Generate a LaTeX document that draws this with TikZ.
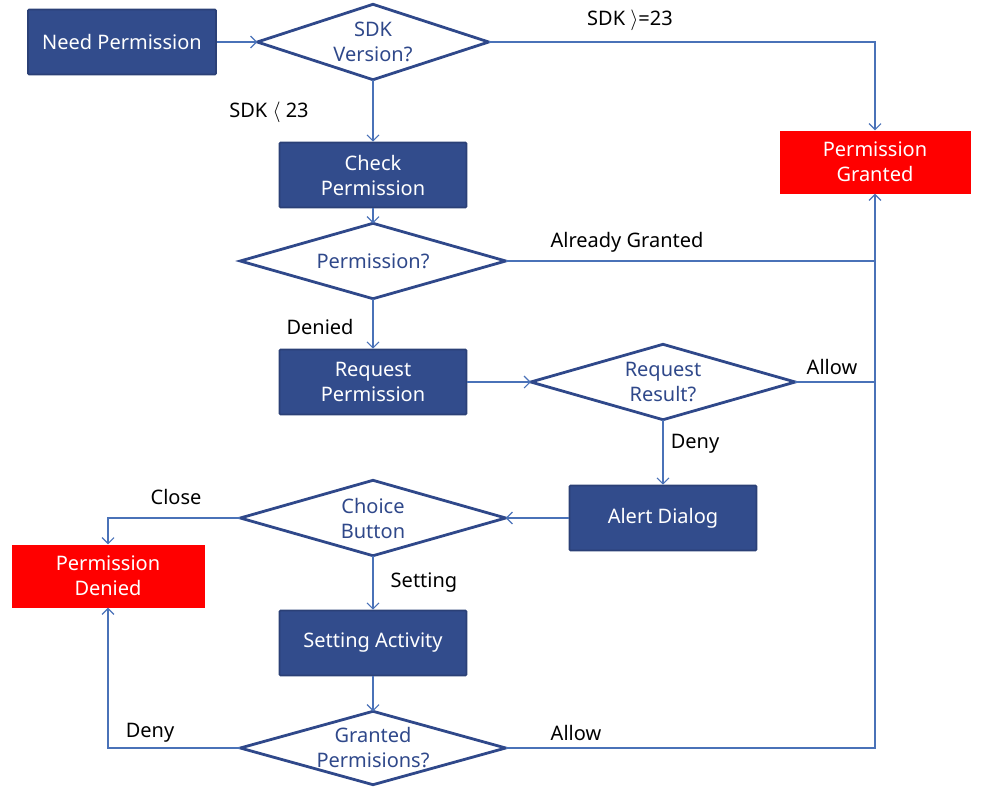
\documentclass[tikz,border=0pt]{standalone}
\usepackage{fontspec}
\setmainfont{Noto Sans}
\usetikzlibrary{arrows.meta}
\definecolor{boxblue}{RGB}{50,76,140}
\definecolor{boxedge}{RGB}{43,64,118}
\definecolor{diablue}{RGB}{47,72,138}
\definecolor{linkblue}{RGB}{74,114,184}
\definecolor{redbox}{RGB}{255,0,0}
\tikzset{
  every node/.style={font=\fontsize{20}{25}\selectfont, align=center, inner sep=0pt},
  procbox/.style={rectangle, fill=boxblue, draw=boxedge, line width=1.6pt, text=white, minimum width=187, minimum height=65, rounded corners=1pt},
  endbox/.style={rectangle, fill=redbox, text=white, minimum width=192, minimum height=63},
  dianode/.style={rectangle, text=diablue, minimum width=265, minimum height=75},
  diaedge/.style={draw=diablue, line width=2.8pt, line join=miter},
  lbl/.style={text=black},
  link/.style={draw=linkblue, line width=1.2pt},
  arr/.style={link, -{Straight Barb[length=6pt, width=12pt, line width=1.1pt]}},
}
\begin{document}
\begin{tikzpicture}[x=1pt, y=-1pt]
\useasboundingbox (0,0) rectangle (989,798);
% process boxes
\node[procbox, minimum width=188] (need) at (122,42) {Need Permission};
\node[procbox] (check) at (373,175) {Check\\Permission};
\node[procbox] (req) at (373,382) {Request\\Permission};
\node[procbox] (alert) at (663,518) {Alert Dialog};
\node[procbox] (setact) at (373,643) {Setting Activity};
% end boxes
\node[endbox, minimum width=191] (granted) at (875,162) {Permission\\Granted};
\node[endbox, minimum width=193] (denied) at (108,576) {Permission\\Denied};
% decisions
\node[dianode, minimum width=231] (sdk) at (373,42) {SDK\\Version?};
\node[dianode] (perm) at (373,261) {Permission?};
\node[dianode, minimum width=264] (rr) at (663,382) {Request\\Result?};
\node[dianode] (choice) at (373,518) {Choice\\Button};
\node[dianode, minimum height=73] (gp) at (373,748) {Granted\\Permisions?};
\foreach \n in {sdk,perm,rr,choice,gp}
  \draw[diaedge] (\n.west) -- (\n.north) -- (\n.east) -- (\n.south) -- cycle;
% labels
\node[lbl] (l1) at (630,20) {SDK $\rangle$=23};
\node[lbl] (l2) at (269,112) {SDK $\langle$ 23};
\node[lbl] (l3) at (627,242) {Already Granted};
\node[lbl] (l4) at (320,327) {Denied};
\node[lbl] (l5) at (832,367) {Allow};
\node[lbl] (l6) at (695,444) {Deny};
\node[lbl] (l7) at (176,497) {Close};
\node[lbl] (l8) at (424,583) {Setting};
\node[lbl] (l9) at (150,733) {Deny};
\node[lbl] (l10) at (576,733) {Allow};
% connectors
\draw[arr] (need.east) -- (sdk.west);
\draw[arr] (sdk.east) -| (granted.north);
\draw[arr] (sdk.south) -- (check.north);
\draw[arr] (check.south) -- (perm.north);
\draw[link] (perm.east) -- (perm.east -| granted.south);
\draw[arr] (perm.south) -- (req.north);
\draw[arr] (req.east) -- (rr.west);
\draw[link] (rr.east) -- (rr.east -| granted.south);
\draw[arr] (rr.south) -- (alert.north);
\draw[arr] (alert.west) -- (choice.east);
\draw[arr] (choice.west) -| (denied.north);
\draw[arr] (choice.south) -- (setact.north);
\draw[arr] (setact.south) -- (gp.north);
\draw[arr] (gp.west) -| (denied.south);
\draw[arr] (gp.east) -| (granted.south);
\end{tikzpicture}
\end{document}
